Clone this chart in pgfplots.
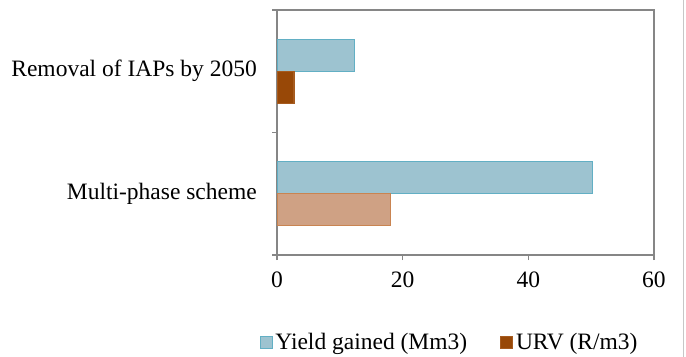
\documentclass[border=0pt]{standalone}
\usepackage{fontspec}
\setmainfont{Liberation Serif}
\usepackage{pgfplots}
\pgfplotsset{compat=1.18}

\definecolor{yieldfill}{HTML}{9DC3D0}
\definecolor{yieldedge}{HTML}{62AFC4}
\definecolor{urvdark}{HTML}{984807}
\definecolor{urvdarkedge}{HTML}{A65B1F}
\definecolor{urvlight}{HTML}{CFA184}
\definecolor{urvlightedge}{HTML}{C98451}
\definecolor{axisgrey}{HTML}{868686}

\newcommand{\chartfont}{\fontsize{23.5bp}{28bp}\selectfont}

\begin{document}
\begin{tikzpicture}
\useasboundingbox (0,0) rectangle (686bp,357bp);
\begin{axis}[
  at={(277bp,102bp)}, anchor=south west,
  scale only axis, width=377bp, height=245bp,
  xbar, bar width=32bp,
  xmin=0, xmax=60, ymin=-0.5, ymax=1.5,
  xtick={0,20,40,60},
  % category boundaries carry the tick marks, the names sit between them
  ytick={-0.5,0.5,1.5},
  yticklabels={},
  extra y ticks={0,1},
  extra y tick labels={Multi-phase scheme, Removal of IAPs by 2050},
  extra y tick style={major tick length=0pt,
    yticklabel style={xshift=-20bp}},
  major tick length=5bp,
  tick align=outside,
  xtick pos=bottom, ytick pos=left,
  axis line style={axisgrey, line width=1.5bp},
  every tick/.style={axisgrey, line width=1.5bp},
  /pgf/number format/assume math mode=true,
  xticklabel style={font=\chartfont, inner sep=0pt, yshift=-12bp},
  yticklabel style={font=\chartfont, inner sep=0pt},
  legend style={at={(0.459,-0.355)}, anchor=center, draw=none, fill=none,
    font=\chartfont, legend columns=2, nodes={inner sep=3bp},
    /tikz/every even column/.style={column sep=30bp}},
  legend image code/.code={\draw[#1, line width=0.8bp] (0bp,-6bp) rectangle (12bp,6bp);},
]
% Yield gained, upper bar of each group
\addplot[fill=yieldfill, draw=yieldedge, line width=1.2bp, bar shift=16bp]
  coordinates {(50.2,0) (12.3,1)};
\addlegendentry{Yield gained (Mm3)}
% URV for the IAP removal option
\addplot[fill=urvdark, draw=urvdarkedge, line width=1.2bp, bar shift=-16bp]
  coordinates {(2.7,1)};
\addlegendentry{URV (R/m3)}
% URV for the multi-phase scheme
\addplot[fill=urvlight, draw=urvlightedge, line width=1.2bp, bar shift=-16bp, forget plot]
  coordinates {(18.1,0)};
\end{axis}
\draw[black!22, line width=1bp] (683bp,0) -- (683bp,357bp);
\end{tikzpicture}
\end{document}
